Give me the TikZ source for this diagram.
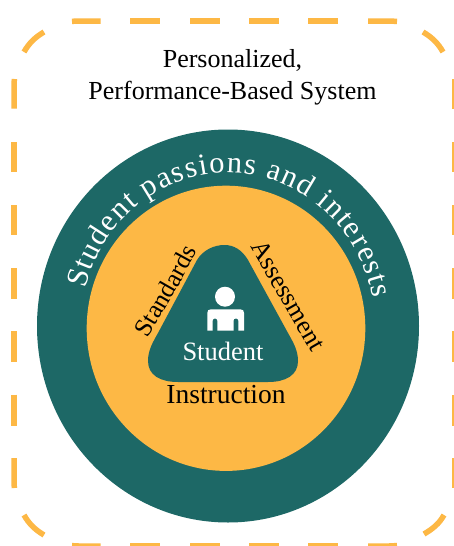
\documentclass[tikz,border=0pt]{standalone}
\usepackage{fontspec}
\setmainfont{Liberation Serif}
\usetikzlibrary{decorations.text}
\definecolor{tealc}{HTML}{1D6866}
\definecolor{amberc}{HTML}{FDB845}
\tikzset{
  frameline/.style={draw=amberc,line width=5.5pt},
  heading/.style={font=\fontsize{26}{32}\selectfont,align=center,text=black},
  lab/.style={font=\fontsize{27.5}{30}\selectfont,text=black},
}
\begin{document}
\begin{tikzpicture}[x=1pt,y=-1pt]
\useasboundingbox (0,0) rectangle (453,546);
\fill[white] (0,0) rectangle (453,546);
% dashed frame
\draw[frameline] (72,21.4) .. controls (74.3,21.1) and (76.6,21) .. (79,21) -- (100.5,21);
\foreach \a/\b in {130/160,190/219.5,249/278.5,308/338}{
  \draw[frameline] (\a,21) -- (\b,21);
  \draw[frameline] (\a,546) -- (\b,546);
}
\draw[frameline] (368,21) -- (389,21) .. controls (391.5,21) and (394,21.2) .. (397,21.5);
\draw[frameline] (72,545.6) .. controls (74.3,545.9) and (76.6,546) .. (79,546) -- (100.5,546);
\draw[frameline] (368,546) -- (389,546) .. controls (391.5,546) and (394,545.8) .. (397,545.5);
\draw[frameline] (24,52) .. controls (29,43) and (35.5,37) .. (44,32);
\draw[frameline] (423,32) .. controls (431.5,37) and (438,43) .. (443,52);
\draw[frameline] (24,515) .. controls (29,524) and (35.5,530) .. (44,535);
\draw[frameline] (424,534) .. controls (432.5,529) and (439,524) .. (444,515);
\draw[frameline] (14.4,79) .. controls (14.1,81.3) and (14,83.6) .. (14,86) -- (14,108.5);
\foreach \a/\b in {142/172,205/235,268/299,331/362,394.5/426}{
  \draw[frameline] (14,\a) -- (14,\b);
  \draw[frameline] (454.5,\a) -- (454.5,\b);
}
\draw[frameline] (14,458) -- (14,481) .. controls (14,483.4) and (14.1,485.7) .. (14.4,488);
\draw[frameline] (454.5,79) -- (454.5,108.5);
\draw[frameline] (454.5,458) -- (454.5,488);
% circles
\fill[tealc] (228,326) ellipse (191 and 196.5);
\fill[amberc] (226,328.3) ellipse (139.3 and 142.6);
% triangle
\fill[tealc] (224.5,245) .. controls (234,245) and (242,250) .. (248,260) -- (288,333)
  .. controls (293,342) and (298,350) .. (298,361)
  .. controls (298,375) and (286,382) .. (268,382) -- (178,382)
  .. controls (160,382) and (148,375) .. (148,361)
  .. controls (148,350) and (153,342) .. (158,333) -- (197,260)
  .. controls (203,250) and (214,245) .. (224.5,245) -- cycle;
% person
\fill[white] (225,296.7) circle (10);
\fill[white] (207.3,330.7) -- (207.3,313) .. controls (207.3,310.5) and (208.5,309.3) .. (211,309.3) -- (240.3,309.3) .. controls (242.8,309.3) and (244,310.5) .. (244,313) -- (244,330.7) -- (238.3,330.7) -- (238.3,320.5) .. controls (238.3,317.8) and (233.5,317.8) .. (233.5,320.5) -- (233.5,330.7) -- (217.3,330.7) -- (217.3,320.5) .. controls (217.3,317.8) and (212.7,317.8) .. (212.7,320.5) -- (212.7,330.7) -- cycle;
% texts
\node[heading] (title) at (232.5,77) {Personalized,\\Performance-Based System};
\node[font=\fontsize{26.5}{30}\selectfont,text=white] (student) at (223,351) {Student};
\node[lab] (instr) at (226,395) {Instruction};
\path[decorate,decoration={text along path,text align=center,text={|\fontsize{25.5}{28}\selectfont|Standards}}] (147,339) .. controls (165,310) and (182,280) .. (198,250);
\path[decorate,decoration={text along path,text align=center,text={|\fontsize{26}{28}\selectfont|Assessment}}] (249,244) -- (313,355);
\path[decorate,decoration={text along path,text align={fit to path},text color=white,text={|\fontsize{30.5}{34}\selectfont|Student passions and interests}}]
 (228,326) ++(194:147 and 153) arc[start angle=194,end angle=349.5,x radius=147,y radius=153];
\end{tikzpicture}
\end{document}
